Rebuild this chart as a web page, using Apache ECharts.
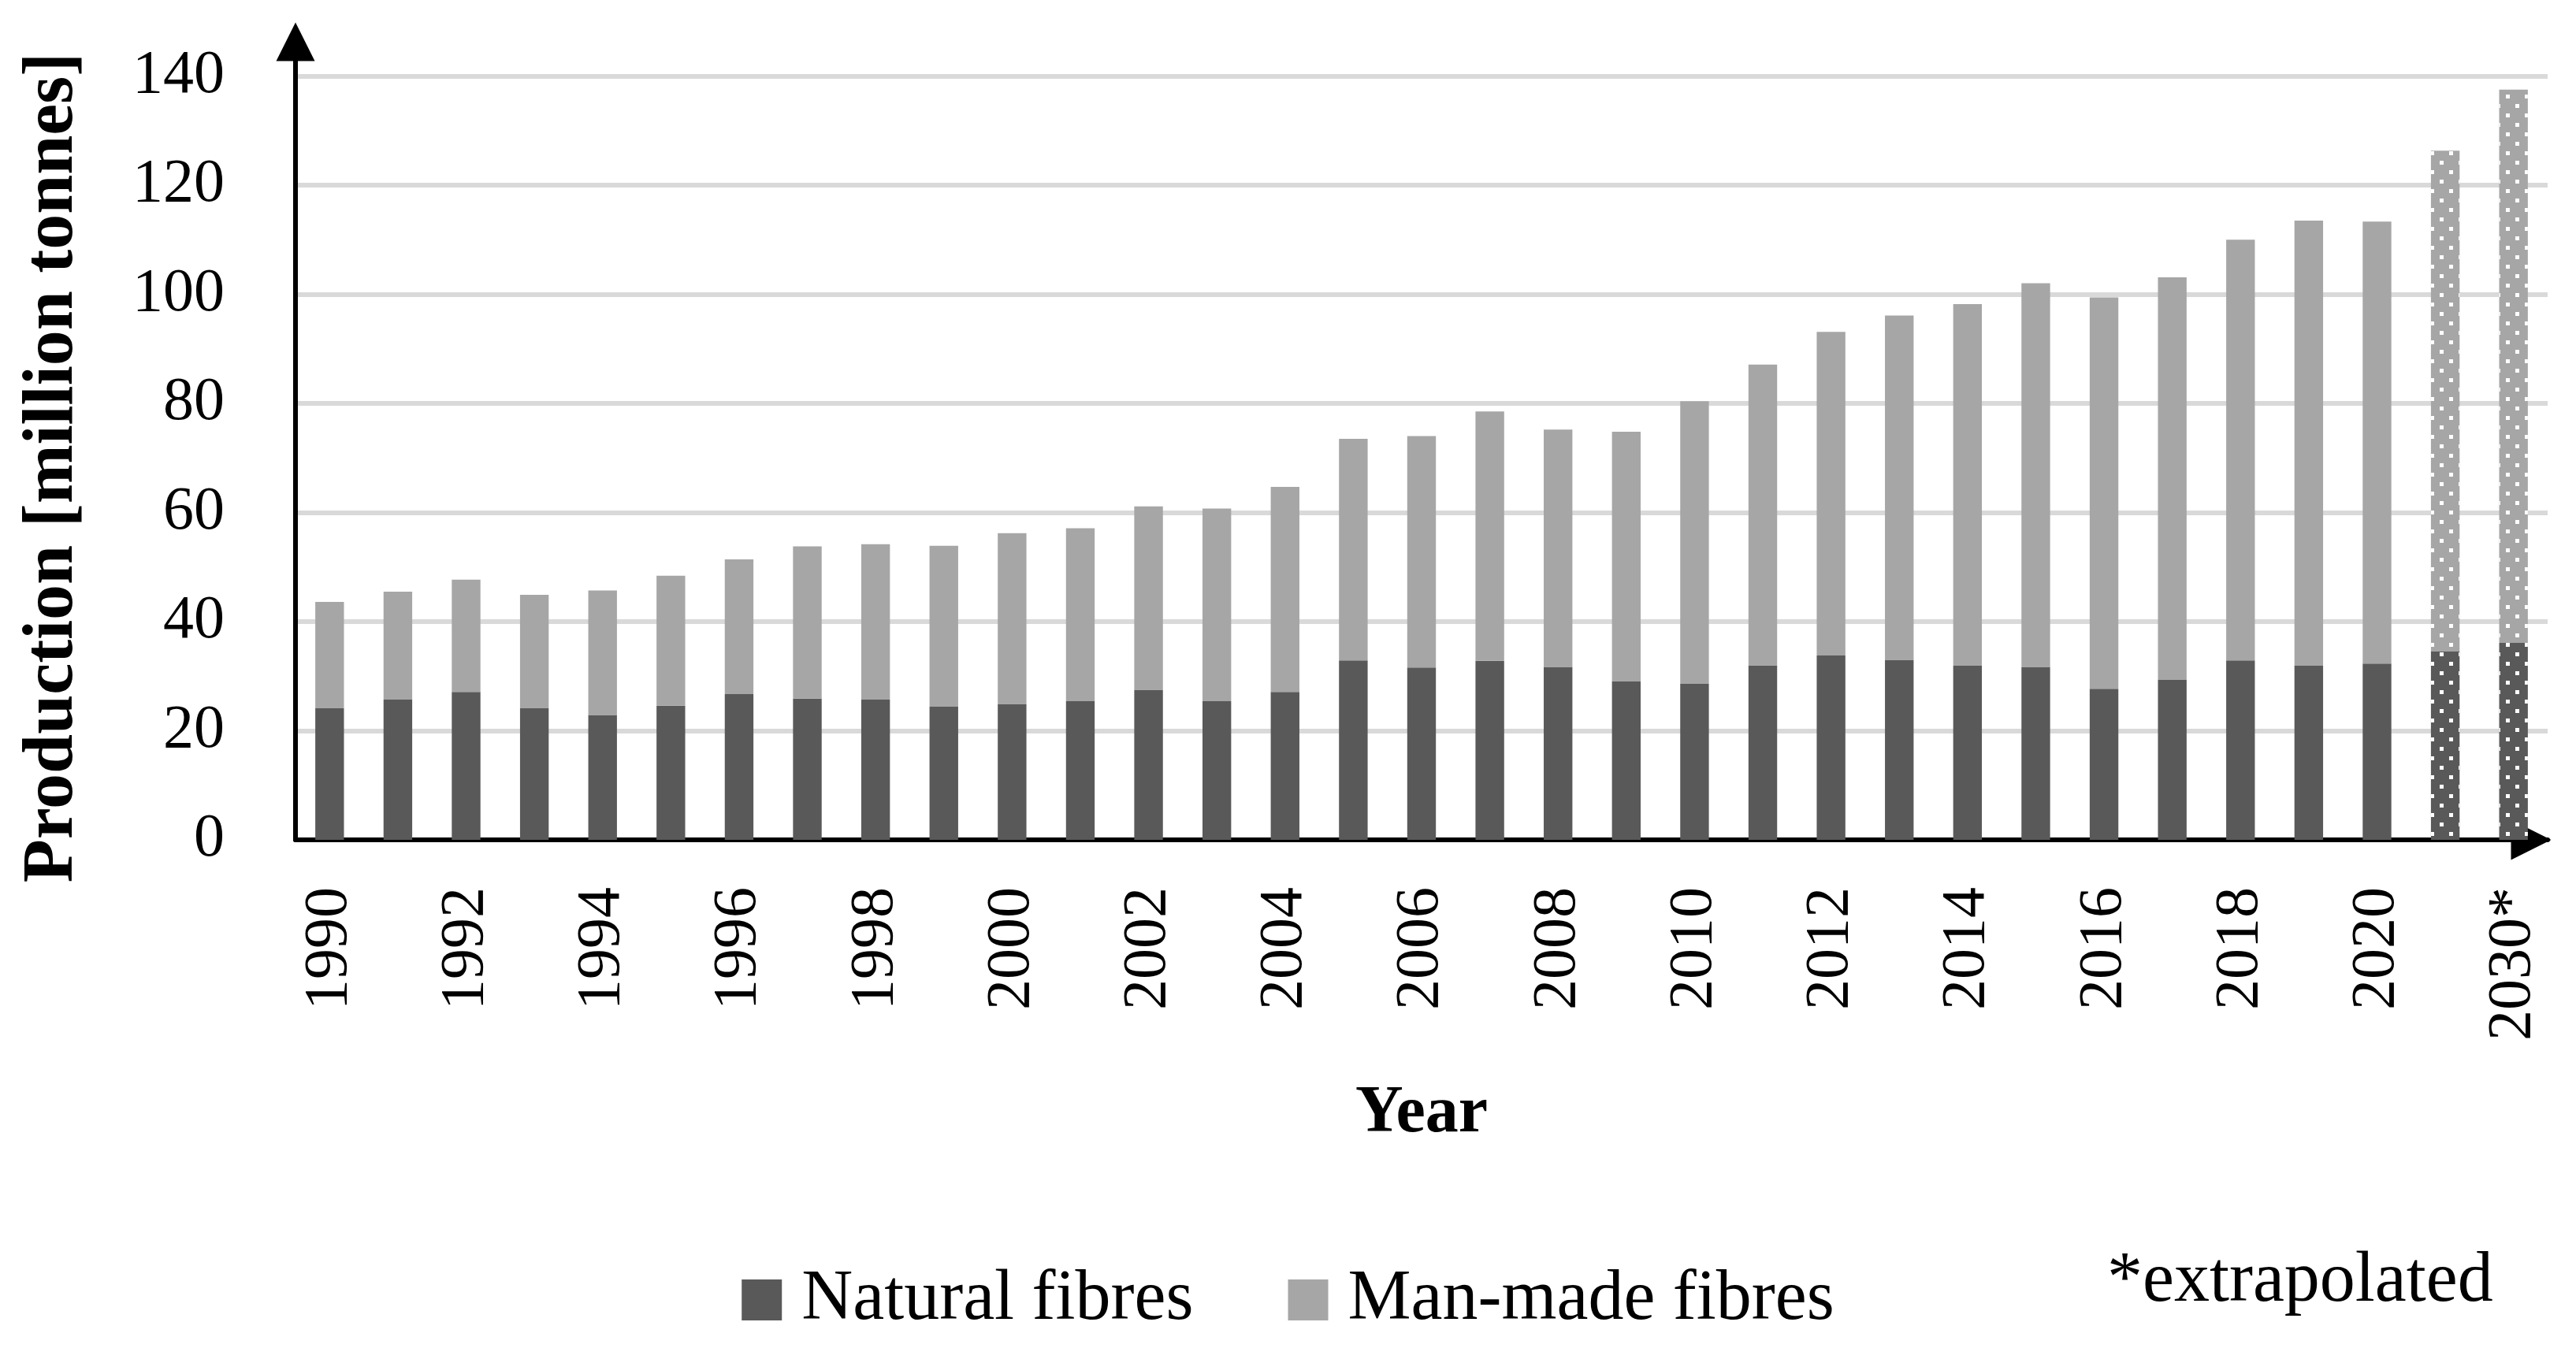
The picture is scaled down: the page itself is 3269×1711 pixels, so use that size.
<!DOCTYPE html>
<html>
<head>
<meta charset="utf-8">
<script src="https://cdn.jsdelivr.net/npm/echarts@6/dist/echarts.min.js"></script>
<style>
html,body{margin:0;padding:0;background:#fff;}
#chart{width:3269px;height:1711px;}
</style>
</head>
<body>
<div id="chart"></div>
<script>
// ---- data ----
var years = ['1990','1991','1992','1993','1994','1995','1996','1997','1998','1999',
             '2000','2001','2002','2003','2004','2005','2006','2007','2008','2009',
             '2010','2011','2012','2013','2014','2015','2016','2017','2018','2019',
             '2020','2025*','2030*'];
var naturalFibres = [24.1, 25.7, 27.1, 24.1, 22.9, 24.6, 26.7, 25.9, 25.7, 24.4,
                     24.9, 25.4, 27.5, 25.4, 27.1, 32.9, 31.6, 32.8, 31.7, 29.1,
                     28.6, 32.0, 33.8, 33.0, 31.9, 31.7, 27.7, 29.3, 32.9, 31.9,
                     32.3, 34.5, 36.1];
var manMadeFibres = [19.5, 19.8, 20.6, 20.8, 22.8, 23.8, 24.7, 27.9, 28.5, 29.5,
                     31.3, 31.7, 33.6, 35.3, 37.6, 40.6, 42.4, 45.7, 43.5, 45.7,
                     51.8, 55.1, 59.3, 63.1, 66.3, 70.3, 71.7, 73.8, 77.1, 81.6,
                     81.0, 91.8, 101.4];
var extrapolated = ['2025*', '2030*'];
var seriesNames = ['Natural fibres', 'Man-made fibres'];
var yTicks = [0, 20, 40, 60, 80, 100, 120, 140];

// ---- styling ----
var FONT = "'Liberation Serif', 'Times New Roman', serif";
var DARK = '#595959', LIGHT = '#a6a6a6', GRID = '#d9d9d9';
var dotDecal = {
  symbol: 'rect',
  symbolSize: 1,
  color: '#ffffff',
  dashArrayX: [[5, 19], [0, 12, 5, 7]],
  dashArrayY: [5, 7],
  rotation: 0
};
function withDecal(values) {
  return values.map(function (v, i) {
    if (extrapolated.indexOf(years[i]) >= 0) {
      return { value: v, itemStyle: { decal: dotDecal } };
    }
    return v;
  });
}

var chart = echarts.init(document.getElementById('chart'), null, {renderer: 'canvas'});
var option = {
  animation: false,
  backgroundColor: '#ffffff',
  textStyle: { fontFamily: FONT, color: '#000' },
  grid: { left: 375, right: 36, top: 41, bottom: 645, containLabel: false },
  legend: {
    data: seriesNames,
    left: 'center',
    top: 1600,
    icon: 'rect',
    itemWidth: 51,
    itemHeight: 52,
    itemGap: 120,
    textStyle: { fontFamily: FONT, fontSize: 90, color: '#000', padding: [0, 0, 0, 20] }
  },
  xAxis: {
    type: 'category',
    data: years,
    boundaryGap: true,
    name: 'Year',
    nameLocation: 'middle',
    nameGap: 306,
    nameTextStyle: { fontFamily: FONT, fontWeight: 'bold', fontSize: 84, color: '#000' },
    axisLine: {
      show: true,
      lineStyle: { color: '#000', width: 6 },
      symbol: ['none', 'triangle'],
      symbolSize: [51, 51],
      symbolOffset: [0, -21]
    },
    axisTick: { show: false },
    axisLabel: {
      interval: 1,
      rotate: 90,
      margin: 60,
      fontFamily: FONT,
      fontSize: 78,
      color: '#000'
    },
    splitLine: { show: false }
  },
  yAxis: {
    type: 'value',
    min: 0,
    max: 148,
    interval: 20,
    name: 'Production [million tonnes]',
    nameLocation: 'middle',
    nameGap: 262,
    nameTextStyle: { fontFamily: FONT, fontWeight: 'bold', fontSize: 90, color: '#000', padding: [0, 80, 0, 0] },
    axisLine: {
      show: true,
      lineStyle: { color: '#000', width: 6 },
      symbol: ['none', 'triangle'],
      symbolSize: [49, 49],
      symbolOffset: [0, -12]
    },
    axisTick: { show: false },
    axisLabel: {
      margin: 90,
      fontFamily: FONT,
      fontSize: 78,
      color: '#000',
      showMaxLabel: false,
      formatter: function (v) { return yTicks.indexOf(v) >= 0 ? String(v) : ''; }
    },
    splitLine: { show: true, showMaxLine: false, lineStyle: { color: GRID, width: 6 } }
  },
  graphic: [{
    type: 'text',
    left: 2674,
    top: 1582,
    style: { text: '*extrapolated', font: '90px ' + FONT, fill: '#000' }
  }],
  series: [
    {
      name: seriesNames[0],
      type: 'bar',
      stack: 'total',
      barWidth: '42%',
      itemStyle: { color: DARK },
      data: withDecal(naturalFibres)
    },
    {
      name: seriesNames[1],
      type: 'bar',
      stack: 'total',
      barWidth: '42%',
      itemStyle: { color: LIGHT },
      data: withDecal(manMadeFibres)
    }
  ]
};
chart.setOption(option);
</script>
</body>
</html>
